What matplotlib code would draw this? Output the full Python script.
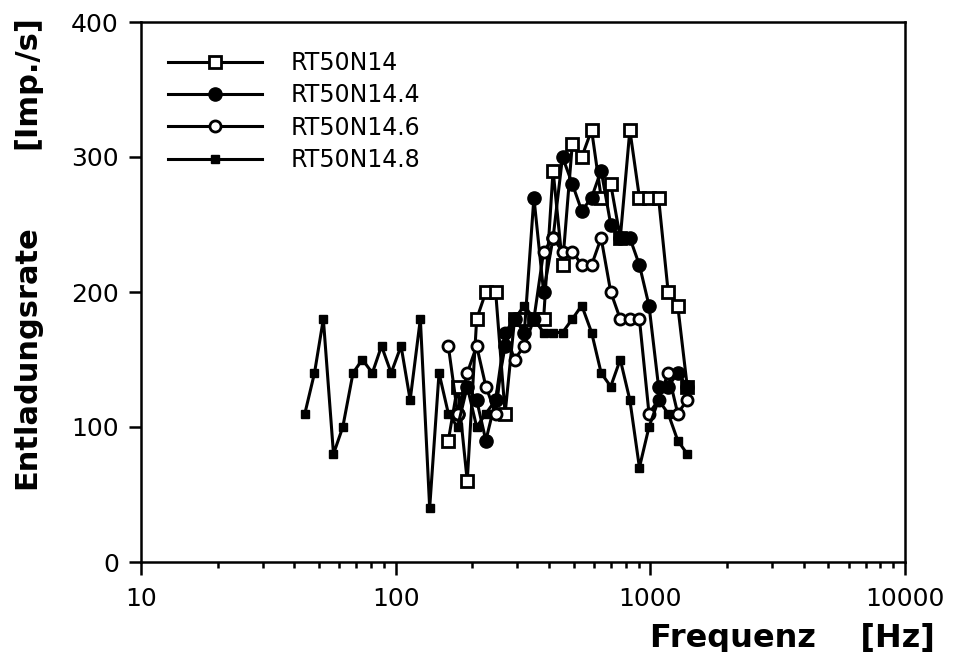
import matplotlib
matplotlib.use("Agg")
import matplotlib.pyplot as plt
from matplotlib.ticker import LogLocator, NullFormatter, FixedLocator

plt.rcParams['font.family'] = ['DejaVu Sans']

# ---- data ----
freq_14 = [161, 175, 191, 208, 226, 247, 269, 293, 320, 349, 381, 415, 452, 494,
           538, 588, 641, 699, 762, 831, 906, 988, 1077, 1175, 1281, 1396]
rate_14 = [90, 130, 60, 180, 200, 200, 110, 180, 180, 180, 180, 290, 220, 310,
           300, 320, 270, 280, 240, 320, 270, 270, 270, 200, 190, 130]

freq_144 = [175, 191, 208, 226, 247, 269, 293, 320, 349, 381, 415, 452, 494,
            538, 588, 641, 699, 762, 831, 906, 988, 1077, 1175, 1281, 1396]
rate_144 = [110, 130, 120, 90, 120, 160, 180, 170, 270, 200, 240, 300, 280,
            260, 270, 290, 250, 240, 240, 220, 190, 130, 130, 140, 130]

freq_146 = [161, 175, 191, 208, 226, 247, 269, 293, 320, 349, 381, 415, 452, 494,
            538, 588, 641, 699, 762, 831, 906, 988, 1077, 1175, 1281, 1396]
rate_146 = [160, 110, 140, 160, 130, 110, 170, 150, 160, 180, 230, 240, 230, 230,
            220, 220, 240, 200, 180, 180, 180, 110, 120, 140, 110, 120]

freq_148 = [44, 48, 52, 57, 62, 68, 74, 81, 88, 96, 105, 114, 125, 136, 148, 161,
            175, 191, 208, 226, 247, 269, 293, 320, 349, 381, 415, 452, 494, 538,
            588, 641, 699, 762, 831, 906, 988, 1077, 1175, 1281, 1396]
rate_148 = [110, 140, 180, 80, 100, 140, 150, 140, 160, 140, 160, 120, 180, 40, 140, 110,
            100, 130, 100, 110, 120, 170, 180, 190, 180, 170, 170, 170, 180, 190,
            170, 140, 130, 150, 120, 70, 100, 120, 110, 90, 80]

labels = ["RT50N14", "RT50N14.4", "RT50N14.6", "RT50N14.8"]
x_ticks = [10, 100, 1000, 10000]
x_ticklabels = ["10", "100", "1000", "10000"]
y_ticks = [0, 100, 200, 300, 400]

# ---- figure ----
fig = plt.figure(figsize=(9.55, 6.52), dpi=100)
ax = fig.add_axes([141/955, 1 - 562/652, (905 - 141)/955, (562 - 22)/652])

lw = 2.2
ax.plot(freq_14, rate_14, color='black', lw=lw, marker='s', ms=9,
        mfc='white', mec='black', mew=2.0, label=labels[0], zorder=3)
ax.plot(freq_144, rate_144, color='black', lw=lw, marker='o', ms=9.5,
        mfc='black', mec='black', label=labels[1], zorder=3)
ax.plot(freq_146, rate_146, color='black', lw=lw, marker='o', ms=8,
        mfc='white', mec='black', mew=2.0, label=labels[2], zorder=3)
ax.plot(freq_148, rate_148, color='black', lw=lw, marker='s', ms=5.5,
        mfc='black', mec='black', label=labels[3], zorder=3)

ax.set_xscale('log')
ax.set_xlim(10, 10000)
ax.set_ylim(0, 400)
ax.xaxis.set_major_locator(FixedLocator(x_ticks))
ax.set_xticklabels(x_ticklabels)
ax.xaxis.set_minor_locator(LogLocator(base=10, subs=range(2, 10)))
ax.xaxis.set_minor_formatter(NullFormatter())
ax.set_yticks(y_ticks)

ax.tick_params(axis='both', which='major', direction='out', length=9, width=1.8,
               labelsize=18, color='black')
ax.tick_params(axis='x', which='major', pad=9)
ax.tick_params(axis='y', which='major', pad=7)
ax.tick_params(axis='x', which='minor', direction='out', length=4, width=1.8)
for s in ax.spines.values():
    s.set_linewidth(1.8)

# axis titles
fig.text(27/955, 1 - 357/652, "Entladungsrate", fontsize=22, fontweight='bold',
         rotation=90, ha='center', va='center')
fig.text(27/955, 1 - 82/652, "[Imp./s]", fontsize=22, fontweight='bold',
         rotation=90, ha='center', va='center')
fig.text(935/955, 1 - 638/652, "Frequenz    [Hz]", fontsize=23, fontweight='bold',
         ha='right', va='center')

leg = ax.legend(loc='upper left', bbox_to_anchor=(27/764, 1 - 29/540),
                frameon=False, fontsize=17, handlelength=4.0, handletextpad=1.2,
                labelspacing=0.35, borderpad=0, borderaxespad=0)

fig.savefig("out.png", dpi=100)
